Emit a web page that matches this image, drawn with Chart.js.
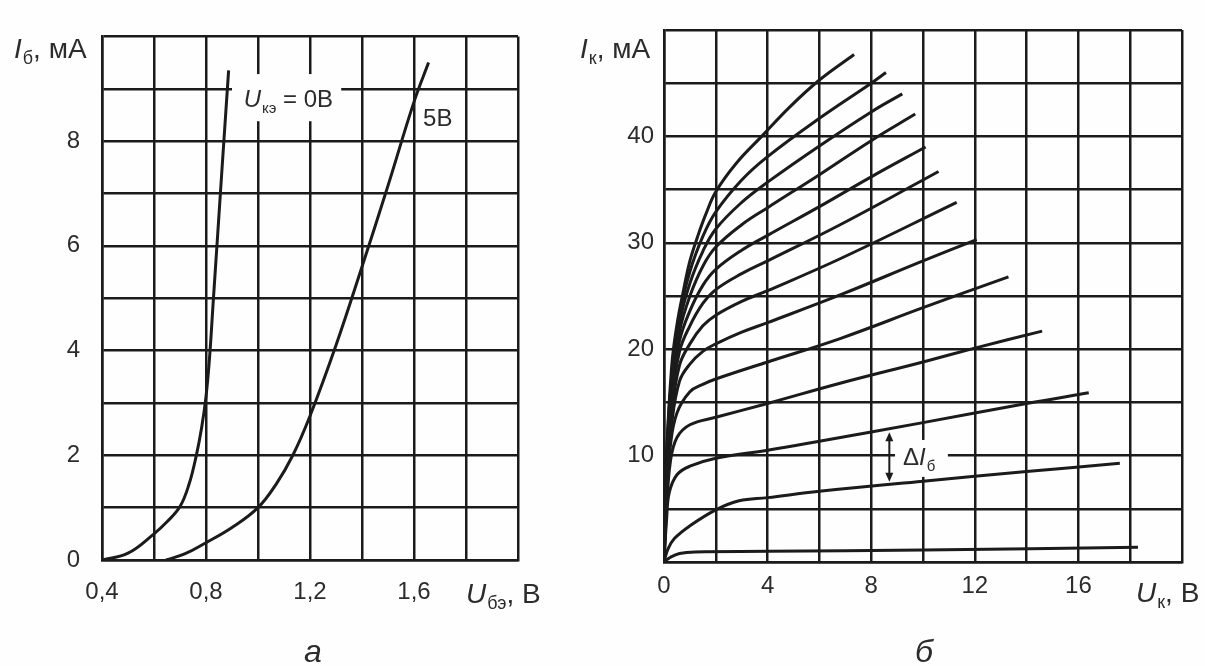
<!DOCTYPE html>
<html lang="ru">
<head>
<meta charset="utf-8">
<title>Входные и выходные характеристики транзистора</title>
<script src="https://cdn.jsdelivr.net/npm/chart.js@4.4.0/dist/chart.umd.min.js"></script>
<style>
  html, body { margin: 0; padding: 0; background: #fdfefd; }
  #wrap { position: relative; width: 1205px; height: 666px; overflow: hidden; }
  canvas { position: absolute; top: 0; }
  #inputChart { left: 0; }
  #outputChart { left: 560px; }
</style>
</head>
<body>
<div id="wrap">
  <canvas id="inputChart" width="560" height="666"></canvas>
  <canvas id="outputChart" width="645" height="666"></canvas>
</div>
<script>
// входные характеристики, U_кэ = 0 В
const ube0 = [0.40, 0.50, 0.60, 0.65, 0.70, 0.735, 0.762, 0.783, 0.800, 0.813, 0.828, 0.848, 0.868, 0.887];
const ib0 = [0.00, 0.13, 0.50, 0.73, 1.02, 1.45, 1.98, 2.52, 3.12, 3.82, 4.95, 6.45, 7.95, 9.35];

// входные характеристики, U_кэ = 5 В
const ube5 = [0.646, 0.72, 0.80, 0.90, 1.00, 1.07, 1.134, 1.20, 1.30, 1.40, 1.50, 1.60, 1.656];
const ib5 = [0.00, 0.12, 0.33, 0.62, 1.00, 1.45, 2.00, 2.75, 4.10, 5.60, 7.15, 8.75, 9.50];

// выходные характеристики: пары [U_к, I_к], снизу вверх
const ik1 = [[0, 0], [0.25, 0.45], [0.6, 0.8], [1.2, 0.95], [4, 1.0], [10, 1.12], [18.3, 1.38]];
const ik2 = [[0, 0], [0.15, 1.2], [0.4, 2.2], [1, 3.4], [2, 4.9], [2.9, 5.75], [4, 6.05], [6, 6.65], [10, 7.6], [14, 8.5], [17.6, 9.27]];
const ik3 = [[0, 0], [0.1, 4], [0.2, 6.5], [0.5, 8.2], [1, 9.0], [2, 9.75], [4, 10.5], [6, 11.35], [10, 13.1], [14, 14.9], [16.4, 15.9]];
const ik4 = [[0, 0], [0.1, 5], [0.25, 9.5], [0.5, 11.7], [1, 12.9], [2, 13.6], [4, 14.9], [6.8, 16.8], [10, 18.8], [12, 20.1], [14.6, 21.7]];
const ik5 = [[0, 0], [0.1, 6], [0.25, 11], [0.5, 14], [1, 16], [1.5, 16.7], [2, 17.2], [4, 18.8], [6.8, 21.0], [10, 23.9], [13.3, 26.8]];
const ik6 = [[0, 0], [0.1, 7], [0.3, 13], [0.6, 17], [1, 18.6], [1.5, 19.8], [2, 20.5], [3, 21.6], [4, 22.5], [6.8, 25.1], [10, 28.3], [12.07, 30.3]];
const ik7 = [[0, 0], [0.1, 7.5], [0.3, 14], [0.6, 18.5], [1, 20.5], [1.5, 22.2], [2, 23.2], [3, 24.5], [4, 25.5], [6.8, 28.5], [11.3, 33.8]];
const ik8 = [[0, 0], [0.1, 8], [0.3, 15], [0.6, 19.8], [1, 22.2], [1.5, 24.3], [2, 25.6], [3, 27.1], [4, 28.3], [6.8, 31.7], [10, 35.9], [10.6, 36.7]];
const ik9 = [[0, 0], [0.1, 8.5], [0.3, 16], [0.6, 20.8], [1, 23.6], [1.5, 26.0], [2, 27.5], [3, 29.3], [4, 30.7], [6, 33.4], [8, 36.2], [10.1, 39.0]];
const ik10 = [[0, 0], [0.1, 9], [0.3, 16.5], [0.6, 21.7], [1, 25.0], [1.5, 27.8], [2, 29.6], [3, 31.7], [4, 33.3], [6, 36.4], [8, 39.6], [9.7, 42.1]];
const ik11 = [[0, 0], [0.1, 9.5], [0.3, 17], [0.6, 22.5], [1, 26.2], [1.5, 29.2], [2, 31.3], [3, 33.8], [4, 35.7], [6, 39.1], [8, 42.3], [9.2, 44.0]];
const ik12 = [[0, 0], [0.1, 10], [0.3, 17.5], [0.6, 23.2], [1, 27.3], [1.5, 30.6], [2, 32.9], [3, 35.9], [4, 38.1], [6, 41.7], [8, 45.0], [8.57, 46.0]];
const ik13 = [[0, 0], [0.1, 10], [0.3, 18.5], [0.5, 22.3], [0.75, 25.5], [1, 28.3], [1.3, 30.6], [1.6, 32.6], [2, 34.8], [2.8, 37.5], [3.77, 40], [4.87, 42.8], [6, 45.3], [7.34, 47.7]];

// подписанные деления осей
const inputXLabels = [0.4, 0.8, 1.2, 1.6];
const inputYLabels = [0, 2, 4, 6, 8];
const outputXLabels = [0, 4, 8, 12, 16];
const outputYLabels = [10, 20, 30, 40];

const INK = "#1b1b1b";
const TEXT = "#2c2c2c";
const PAPER = "#fdfefd";
const FONT = "'Liberation Sans', Arial, sans-serif";

function toPoints(xs, ys) {
  return xs.map((x, i) => ({ x: x, y: ys[i] }));
}

function fromPairs(list) {
  return list.map(([x, y]) => ({ x: x, y: y }));
}

function curve(points) {
  return {
    data: points,
    borderColor: INK,
    borderWidth: 3,
    pointRadius: 0,
    fill: false,
    tension: 0.4,
  };
}

function hasLabel(list, v) {
  return list.some((t) => Math.abs(t - v) < 1e-6);
}

function axis(min, max, step, labels, format, padding, size) {
  return {
    type: "linear",
    min: min,
    max: max,
    afterFit: size,
    grid: { color: INK, lineWidth: 2.5, drawTicks: false },
    border: { display: true, color: INK, width: 2.5 },
    ticks: {
      stepSize: step,
      autoSkip: false,
      maxRotation: 0,
      padding: padding,
      color: TEXT,
      font: { family: FONT, size: 24 },
      callback: (v) => (hasLabel(labels, v) ? format(v) : ""),
    },
  };
}

// текст с курсивной буквой и нижним индексом; size — кегль основного текста
function drawRich(ctx, x, y, parts, size) {
  const sub = Math.round(size * 0.64);
  parts.forEach(([text, kind]) => {
    let font = size + "px ";
    let dy = 0;
    if (kind === "i") font = "italic " + size + "px ";
    if (kind === "s") {
      font = sub + "px ";
      dy = Math.round(size * 0.23);
      x += 1;
    }
    ctx.font = font + FONT;
    ctx.fillText(text, x, y + dy);
    x += ctx.measureText(text).width;
  });
  return x;
}

function baseOptions(xAxis, yAxis, padding) {
  return {
    responsive: false,
    animation: false,
    devicePixelRatio: 1,
    layout: { padding: padding },
    plugins: { legend: { display: false }, tooltip: { enabled: false } },
    scales: { x: xAxis, y: yAxis },
  };
}

const inputNotes = {
  id: "inputNotes",
  beforeDatasetsDraw(chart) {
    const { ctx, scales: { x, y } } = chart;
    ctx.save();
    const l = x.getPixelForValue(0.9);
    const r = x.getPixelForValue(1.32);
    const t = y.getPixelForValue(9.28);
    const b = y.getPixelForValue(8.38);
    ctx.fillStyle = PAPER;
    ctx.fillRect(l, t, r - l, b - t);
    ctx.fillStyle = TEXT;
    ctx.textBaseline = "alphabetic";
    drawRich(ctx, x.getPixelForValue(0.945), y.getPixelForValue(8.66), [["U", "i"], ["кэ", "s"], [" = 0В", "n"]], 24);
    drawRich(ctx, x.getPixelForValue(1.635), y.getPixelForValue(8.29), [["5В", "n"]], 24);
    ctx.restore();
  },
  afterDraw(chart) {
    const ctx = chart.ctx;
    ctx.save();
    ctx.fillStyle = TEXT;
    ctx.textBaseline = "alphabetic";
    drawRich(ctx, 14, 58, [["I", "i"], ["б", "s"], [", мА", "n"]], 28);
    drawRich(ctx, 466, 603, [["U", "i"], ["бэ", "s"], [", В", "n"]], 28);
    ctx.font = "italic 32px " + FONT;
    ctx.textAlign = "center";
    ctx.fillText("а", 313, 662);
    ctx.restore();
  },
};

const outputNotes = {
  id: "outputNotes",
  beforeDatasetsDraw(chart) {
    const { ctx, scales: { x, y } } = chart;
    ctx.save();
    const l = x.getPixelForValue(8.92);
    const r = x.getPixelForValue(10.96);
    const t = y.getPixelForValue(11.47);
    const b = y.getPixelForValue(8.0);
    ctx.fillStyle = PAPER;
    ctx.fillRect(l, t, r - l, b - t);
    ctx.fillStyle = TEXT;
    ctx.textBaseline = "alphabetic";
    drawRich(ctx, x.getPixelForValue(9.23), y.getPixelForValue(9.1), [["Δ", "n"], ["I", "i"], ["б", "s"]], 24);
    ctx.restore();
  },
  afterDatasetsDraw(chart) {
    const { ctx, scales: { x, y } } = chart;
    // стрелка ΔI_б между соседними кривыми
    const ax = x.getPixelForValue(8.7);
    const top = y.getPixelForValue(12.2);
    const bottom = y.getPixelForValue(7.55);
    ctx.save();
    ctx.strokeStyle = INK;
    ctx.fillStyle = INK;
    ctx.lineWidth = 2;
    ctx.beginPath();
    ctx.moveTo(ax, top + 6);
    ctx.lineTo(ax, bottom - 6);
    ctx.stroke();
    ctx.beginPath();
    ctx.moveTo(ax, top);
    ctx.lineTo(ax - 4, top + 9);
    ctx.lineTo(ax + 4, top + 9);
    ctx.closePath();
    ctx.fill();
    ctx.beginPath();
    ctx.moveTo(ax, bottom);
    ctx.lineTo(ax - 4, bottom - 9);
    ctx.lineTo(ax + 4, bottom - 9);
    ctx.closePath();
    ctx.fill();
    ctx.restore();
  },
  afterDraw(chart) {
    const ctx = chart.ctx;
    ctx.save();
    ctx.fillStyle = TEXT;
    ctx.textBaseline = "alphabetic";
    drawRich(ctx, 20, 58, [["I", "i"], ["к", "s"], [", мА", "n"]], 28);
    drawRich(ctx, 576, 602, [["U", "i"], ["к", "s"], [", В", "n"]], 28);
    ctx.font = "italic 32px " + FONT;
    ctx.textAlign = "center";
    ctx.fillText("б", 364, 662);
    ctx.restore();
  },
};

new Chart(document.getElementById("inputChart"), {
  type: "line",
  data: {
    datasets: [curve(toPoints(ube0, ib0)), curve(toPoints(ube5, ib5))],
  },
  options: baseOptions(
    axis(0.4, 2.0, 0.2, inputXLabels, (v) => v.toFixed(1).replace(".", ","), 18, (s) => { s.height = 106; }),
    axis(0, 10, 1, inputYLabels, (v) => String(v), 22, (s) => { s.width = 102; }),
    { left: 0, top: 29, right: 42, bottom: 0 }
  ),
  plugins: [inputNotes],
});

const outputCurves = [ik1, ik2, ik3, ik4, ik5, ik6, ik7, ik8, ik9, ik10, ik11, ik12, ik13];

new Chart(document.getElementById("outputChart"), {
  type: "line",
  data: {
    datasets: outputCurves.map((c) => curve(fromPairs(c))),
  },
  options: baseOptions(
    axis(0, 20, 2, outputXLabels, (v) => String(v), 10, (s) => { s.height = 104; }),
    axis(0, 50, 5, outputYLabels, (v) => String(v), 10, (s) => { s.width = 104; }),
    { left: 0, top: 30, right: 23, bottom: 0 }
  ),
  plugins: [outputNotes],
});
</script>
</body>
</html>
